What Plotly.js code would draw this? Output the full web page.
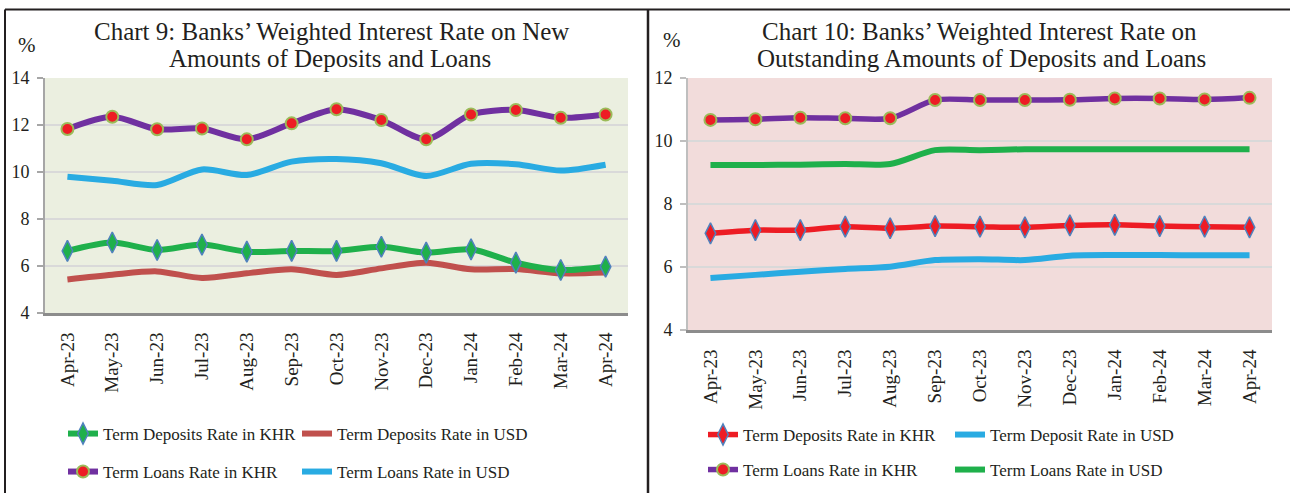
<!DOCTYPE html>
<html><head><meta charset="utf-8">
<script src="https://cdn.plot.ly/plotly-3.0.1.min.js"></script>
<style>html,body{margin:0;padding:0;background:#fff}#chart{width:1290px;height:493px}</style>
</head><body><div id="chart"></div>
<script>
const months = ['Apr-23','May-23','Jun-23','Jul-23','Aug-23','Sep-23','Oct-23','Nov-23','Dec-23','Jan-24','Feb-24','Mar-24','Apr-24'];

// Chart 9: new amounts
const newDepKHR  = [6.64, 7.00, 6.68, 6.91, 6.61, 6.64, 6.64, 6.82, 6.57, 6.71, 6.14, 5.83, 5.97];
const newDepUSD  = [5.43, 5.63, 5.77, 5.49, 5.69, 5.86, 5.62, 5.90, 6.14, 5.86, 5.87, 5.69, 5.72];
const newLoanKHR = [11.83, 12.35, 11.82, 11.85, 11.39, 12.07, 12.67, 12.21, 11.39, 12.45, 12.64, 12.31, 12.45];
const newLoanUSD = [9.80, 9.63, 9.45, 10.11, 9.87, 10.44, 10.55, 10.37, 9.83, 10.35, 10.33, 10.06, 10.31];

// Chart 10: outstanding amounts
const outDepKHR  = [7.07, 7.17, 7.17, 7.28, 7.23, 7.30, 7.28, 7.26, 7.32, 7.34, 7.30, 7.28, 7.26];
const outDepUSD  = [5.65, 5.75, 5.85, 5.94, 6.01, 6.22, 6.25, 6.22, 6.36, 6.38, 6.38, 6.37, 6.37];
const outLoanKHR = [10.67, 10.69, 10.74, 10.72, 10.72, 11.30, 11.30, 11.30, 11.31, 11.35, 11.35, 11.32, 11.37];
const outLoanUSD = [9.24, 9.24, 9.25, 9.27, 9.27, 9.71, 9.71, 9.74, 9.74, 9.74, 9.74, 9.74, 9.74];

const title9a = 'Chart 9: Banks’ Weighted Interest Rate on New';
const title9b = 'Amounts of Deposits and Loans';
const title10a = 'Chart 10: Banks’ Weighted Interest Rate on';
const title10b = 'Outstanding Amounts of Deposits and Loans';

const FONT = 'Liberation Serif, Times New Roman, serif';
const INK = '#231f20';
const W = 1290, H = 493;
const px = v => v / W;
const py = v => 1 - v / H;

const diamond = (fill) => ({symbol:'diamond-tall', size:15, color:fill, line:{color:'#4f81bd', width:1.5}});
const dot = {symbol:'circle', size:12, color:'#ed1c24', line:{color:'#9bbb59', width:2}};

function tr(y, name, color, xa, ya, leg, marker, w) {
  const t = {x: months, y: y, name: name, xaxis: xa, yaxis: ya, legend: leg,
    type: 'scatter', mode: marker ? 'lines+markers' : 'lines',
    line: {color: color, width: w || 6, shape: 'spline', smoothing: 0.8},
    hoverinfo: 'skip'};
  if (marker) t.marker = marker;
  return t;
}

const data = [
  tr(newDepUSD, 'Term Deposits Rate in USD', '#c0504d', 'x', 'y', 'legend'),
  tr(newLoanUSD, 'Term Loans Rate in USD', '#29abe2', 'x', 'y', 'legend2'),
  tr(newDepKHR, 'Term Deposits Rate in KHR', '#1fb04b', 'x', 'y', 'legend', diamond('#1fb04b')),
  tr(newLoanKHR, 'Term Loans Rate in KHR', '#7030a0', 'x', 'y', 'legend2', dot),
  tr(outDepUSD, 'Term Deposit Rate in USD', '#29abe2', 'x2', 'y2', 'legend3'),
  tr(outLoanUSD, 'Term Loans Rate in USD', '#1fb04b', 'x2', 'y2', 'legend4'),
  tr(outDepKHR, 'Term Deposits Rate in KHR', '#ed1c24', 'x2', 'y2', 'legend3', diamond('#ed1c24'), 5.5),
  tr(outLoanKHR, 'Term Loans Rate in KHR', '#7030a0', 'x2', 'y2', 'legend4', dot, 5.5)
];
// legend order: KHR first
const order = {'legend':[2,0], 'legend2':[3,1], 'legend3':[6,4], 'legend4':[7,5]};
Object.values(order).forEach(ix => ix.forEach((i,k) => data[i].legendrank = k + 1));

function xax(domain, standoff) {
  return {domain: domain, type: 'category', range: [-0.5, 12.5], showgrid: false,
    showline: true, linecolor: '#8c8c8c', linewidth: 3, ticks: '', tickangle: -90,
    ticklabelstandoff: standoff, tickfont: {family: FONT, size: 19, color: INK}, fixedrange: true};
}
function yax(domain, range, anchor, lc) {
  return {domain: domain, range: range, dtick: 2, anchor: anchor, showgrid: true,
    gridcolor: '#d9d9d9', gridwidth: 1.5, zeroline: false, showline: true,
    linecolor: lc, linewidth: 2, ticks: 'outside', ticklen: 6, tickwidth: 1.5, tickcolor: lc,
    ticklabelstandoff: 4, tickfont: {family: FONT, size: 18, color: INK}, fixedrange: true};
}

function leg(x, y, ew) {
  return {orientation: 'h', x: px(x), xanchor: 'left', y: py(y), yanchor: 'middle',
    entrywidth: ew, bgcolor: 'rgba(0,0,0,0)', font: {family: FONT, size: 17, color: INK}};
}

function ann(text, x, y, size) {
  return {text: text, x: px(x), y: py(y), xref: 'paper', yref: 'paper', xanchor: 'center',
    yanchor: 'middle', showarrow: false, font: {family: FONT, size: size, color: INK}};
}

const layout = {
  width: W, height: H, margin: {l: 0, r: 0, t: 0, b: 0},
  paper_bgcolor: '#ffffff', plot_bgcolor: 'rgba(0,0,0,0)',
  xaxis: Object.assign(xax([px(45), px(628)], 9), {anchor: 'y'}),
  yaxis: yax([py(313), py(78)], [4, 14], 'x', '#a6a6a6'),
  xaxis2: Object.assign(xax([px(688), px(1272)], 9), {anchor: 'y2'}),
  yaxis2: yax([py(330), py(78)], [4, 12], 'x2', '#bfbfbf'),
  legend: leg(63, 434, 189),
  legend2: leg(63, 472, 189),
  legend3: leg(703, 435, 202),
  legend4: leg(703, 470, 202),
  annotations: [
    ann(title9a, 331, 31, 25), ann(title9b, 330, 59, 25),
    ann(title10a, 979, 31, 25), ann(title10b, 981, 59, 25),
    ann('%', 27, 45, 21), ann('%', 672, 40, 21)
  ],
  shapes: [
    {type:'rect', xref:'x domain', yref:'y domain', x0:0, x1:1, y0:0, y1:1, layer:'below', line:{width:0}, fillcolor:'#ebefe0'},
    {type:'rect', xref:'x2 domain', yref:'y2 domain', x0:0, x1:1, y0:0, y1:1, layer:'below', line:{width:0}, fillcolor:'#f2dcdb'},
    {type:'line', xref:'paper', yref:'paper', x0:px(5), x1:1, y0:py(9.5), y1:py(9.5), line:{color:INK, width:2}},
    {type:'line', xref:'paper', yref:'paper', x0:px(5), x1:px(5), y0:py(9.5), y1:0, line:{color:INK, width:2}},
    {type:'line', xref:'paper', yref:'paper', x0:px(648), x1:px(648), y0:py(9.5), y1:0, line:{color:INK, width:2.5}}
  ]
};

Plotly.newPlot('chart', data, layout, {staticPlot: true, displayModeBar: false});
</script>
</body></html>
